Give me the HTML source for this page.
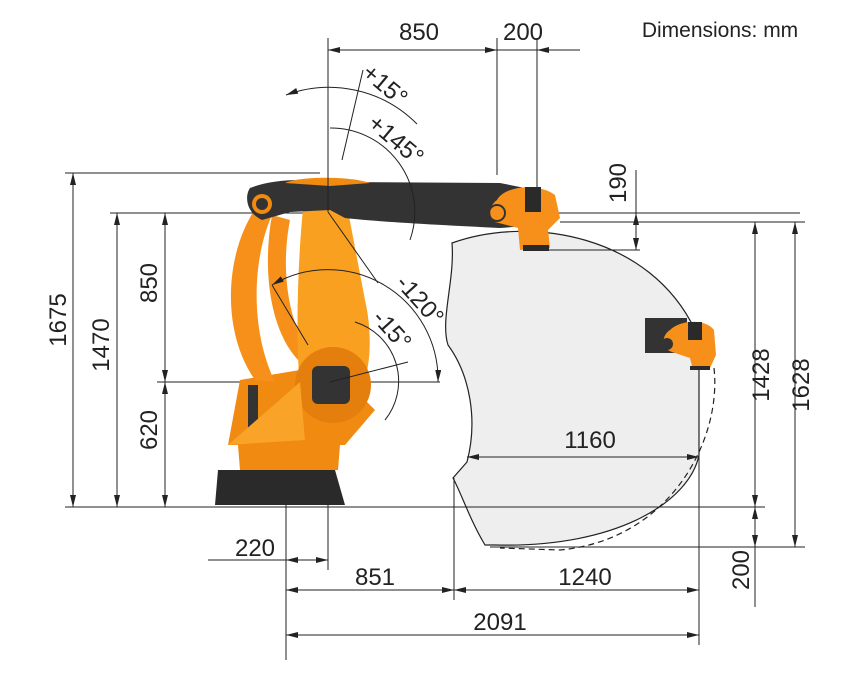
<!DOCTYPE html>
<html><head><meta charset="utf-8"><style>
html,body{margin:0;padding:0;background:#fff}
svg{display:block}
text{font-family:"Liberation Sans",sans-serif;font-size:24px;fill:#222;text-anchor:middle}
</style></head><body>
<svg width="848" height="680" viewBox="0 0 848 680" xmlns="http://www.w3.org/2000/svg">
<defs>
<marker id="a" viewBox="0 0 12 6" refX="12" refY="3" markerWidth="12" markerHeight="6" orient="auto-start-reverse" markerUnits="userSpaceOnUse"><path d="M0,0 L12,3 L0,6 Z" fill="#222"/></marker>
</defs>

<path d="M452,243 C530,215 650,235 695,330 L699,370 L699,455 C690,500 620,548 495,545 L485,545 C470,520 462,495 453,478 L467,462 C478,420 470,375 448,345 C440,320 455,280 452,243 Z" fill="#eeeeee" stroke="#222" stroke-width="1.2"/>
<path d="M714,368 C722,440 670,540 560,550 L500,548" fill="none" stroke="#222" stroke-width="1.2" stroke-dasharray="6,4"/>

<g stroke="#222" stroke-width="1" fill="none">
<line x1="328" y1="38" x2="328" y2="570"/>
<line x1="497" y1="38" x2="497" y2="175"/>
<line x1="537" y1="38" x2="537" y2="190"/>
<line x1="65" y1="173" x2="320" y2="173"/>
<line x1="110" y1="213" x2="800" y2="213"/>
<line x1="157" y1="382" x2="440" y2="382"/>
<line x1="65" y1="507" x2="765" y2="507"/>
<line x1="560" y1="222" x2="805" y2="222"/>
<line x1="545" y1="250" x2="640" y2="250"/>
<line x1="490" y1="547" x2="805" y2="547"/>
<line x1="286" y1="440" x2="286" y2="660"/>
<line x1="454" y1="478" x2="454" y2="600"/>
<line x1="699" y1="370" x2="699" y2="645"/>
<line x1="328" y1="50" x2="497" y2="50" marker-start="url(#a)" marker-end="url(#a)"/>
<line x1="497" y1="50" x2="580" y2="50"/>
<line x1="537" y1="50" x2="560" y2="50" marker-start="url(#a)"/>
<line x1="73" y1="173" x2="73" y2="507" marker-start="url(#a)" marker-end="url(#a)"/>
<line x1="117" y1="213" x2="117" y2="507" marker-start="url(#a)" marker-end="url(#a)"/>
<line x1="165" y1="213" x2="165" y2="382" marker-start="url(#a)" marker-end="url(#a)"/>
<line x1="165" y1="382" x2="165" y2="507" marker-start="url(#a)" marker-end="url(#a)"/>
<line x1="755" y1="222" x2="755" y2="507" marker-start="url(#a)" marker-end="url(#a)"/>
<line x1="795" y1="222" x2="795" y2="547" marker-start="url(#a)" marker-end="url(#a)"/>
<line x1="755" y1="507" x2="755" y2="547" marker-start="url(#a)" marker-end="url(#a)"/>
<line x1="755" y1="547" x2="755" y2="607"/>
<line x1="636" y1="213" x2="636" y2="250" marker-start="url(#a)" marker-end="url(#a)"/>
<line x1="636" y1="170" x2="636" y2="213"/>
<line x1="467" y1="457" x2="699" y2="457" marker-start="url(#a)" marker-end="url(#a)"/>
<line x1="208" y1="560" x2="286" y2="560"/>
<line x1="286" y1="560" x2="328" y2="560" marker-start="url(#a)" marker-end="url(#a)"/>
<line x1="286" y1="590" x2="454" y2="590" marker-start="url(#a)" marker-end="url(#a)"/>
<line x1="454" y1="590" x2="699" y2="590" marker-start="url(#a)" marker-end="url(#a)"/>
<line x1="286" y1="635" x2="699" y2="635" marker-start="url(#a)" marker-end="url(#a)"/>
</g>

<g>
<path d="M228,445 L240,380 L300,370 L350,385 L375,410 L345,445 Z" fill="#f08a10"/>
<path d="M248,385 L258,385 L258,440 L248,440 Z" fill="#333"/>
<path d="M258,205 C225,250 220,330 255,380 L275,382 C250,330 252,260 272,215 Z" fill="#f7901a"/>
<path d="M272,215 C262,270 270,330 298,360 L305,345 C285,310 282,260 290,220 Z" fill="#f7901a"/>
<path d="M305,190 C315,180 340,180 345,195 L365,300 C372,330 372,370 360,390 L300,390 C295,330 298,250 305,190 Z" fill="#f9a020"/>
<circle cx="333" cy="385" r="38" fill="#e47e0c"/>
<rect x="312" y="366" width="38" height="38" rx="6" fill="#333"/>
<path d="M228,445 L300,382 L305,440 Z" fill="#f9a328"/>
<path d="M238,445 L340,445 L338,470 L240,470 Z" fill="#f08a10"/>
<path d="M218,470 L335,470 L345,505 L215,505 Z" fill="#2a2a2a"/>
<path d="M250,188 C270,180 300,178 330,182 L500,183 L545,192 L540,225 L500,228 C440,225 380,222 345,218 L330,210 L290,212 L262,220 C245,212 245,195 250,188 Z" fill="#333"/>
<path d="M285,183 C300,176 350,176 370,183 L330,186 Z" fill="#f08a10"/>
<circle cx="262" cy="204" r="10" fill="#f08a10"/><circle cx="262" cy="204" r="6" fill="#333"/>
<path d="M497,200 C505,185 540,183 555,195 L560,218 L548,230 L550,248 L520,250 L518,228 L495,222 C487,215 490,205 497,200 Z" fill="#f7901a"/>
<rect x="525" y="187" width="16" height="25" fill="#2a2a2a"/>
<rect x="523" y="245" width="26" height="6" fill="#2a2a2a"/>
<circle cx="497" cy="213" r="8" fill="none" stroke="#333" stroke-width="2"/>
<rect x="645" y="318" width="42" height="35" fill="#333"/>
<path d="M670,330 C680,320 705,318 714,330 L716,355 L710,368 L693,370 L690,358 L672,352 C660,348 662,335 670,330 Z" fill="#f7901a"/>
<rect x="688" y="322" width="14" height="18" fill="#2a2a2a"/>
<circle cx="667" cy="344" r="6" fill="#333"/>
<rect x="690" y="366" width="20" height="4" fill="#2a2a2a"/>
</g>

<g stroke="#222" stroke-width="1" fill="none">
<line x1="328" y1="212" x2="328" y2="40"/>
<path d="M286,95 A124,124 0 0 1 417,124" marker-start="url(#a)"/>
<path d="M330,128 A84,84 0 0 1 410,240"/>
<line x1="342" y1="160" x2="363" y2="70"/>
<line x1="328" y1="212" x2="378" y2="283"/>
<path d="M272,285 A110,110 0 0 1 438,382" marker-start="url(#a)" marker-end="url(#a)"/>
<line x1="272" y1="285" x2="308" y2="345"/>
<path d="M355,322 A62,62 0 0 1 385,420"/>
<line x1="330" y1="382" x2="408" y2="362"/>
</g>

<text x="419" y="40">850</text>
<text x="523" y="40">200</text>
<text x="720" y="37" style="font-size:21px">Dimensions: mm</text>
<text x="385" y="93" transform="rotate(40 385 85)">+15°</text>
<text x="396" y="148" transform="rotate(40 396 140)">+145°</text>
<text x="420" y="308" transform="rotate(48 420 300)">-120°</text>
<text x="392" y="338" transform="rotate(48 392 330)">-15°</text>
<text transform="translate(66,320) rotate(-90)">1675</text>
<text transform="translate(109,345) rotate(-90)">1470</text>
<text transform="translate(157,283) rotate(-90)">850</text>
<text transform="translate(157,430) rotate(-90)">620</text>
<text transform="translate(626,183) rotate(-90)">190</text>
<text transform="translate(769,375) rotate(-90)">1428</text>
<text transform="translate(809,385) rotate(-90)">1628</text>
<text transform="translate(749,570) rotate(-90)">200</text>
<text x="590" y="448">1160</text>
<text x="255" y="556">220</text>
<text x="375" y="585">851</text>
<text x="585" y="585">1240</text>
<text x="500" y="630">2091</text>
</svg>
</body></html>
